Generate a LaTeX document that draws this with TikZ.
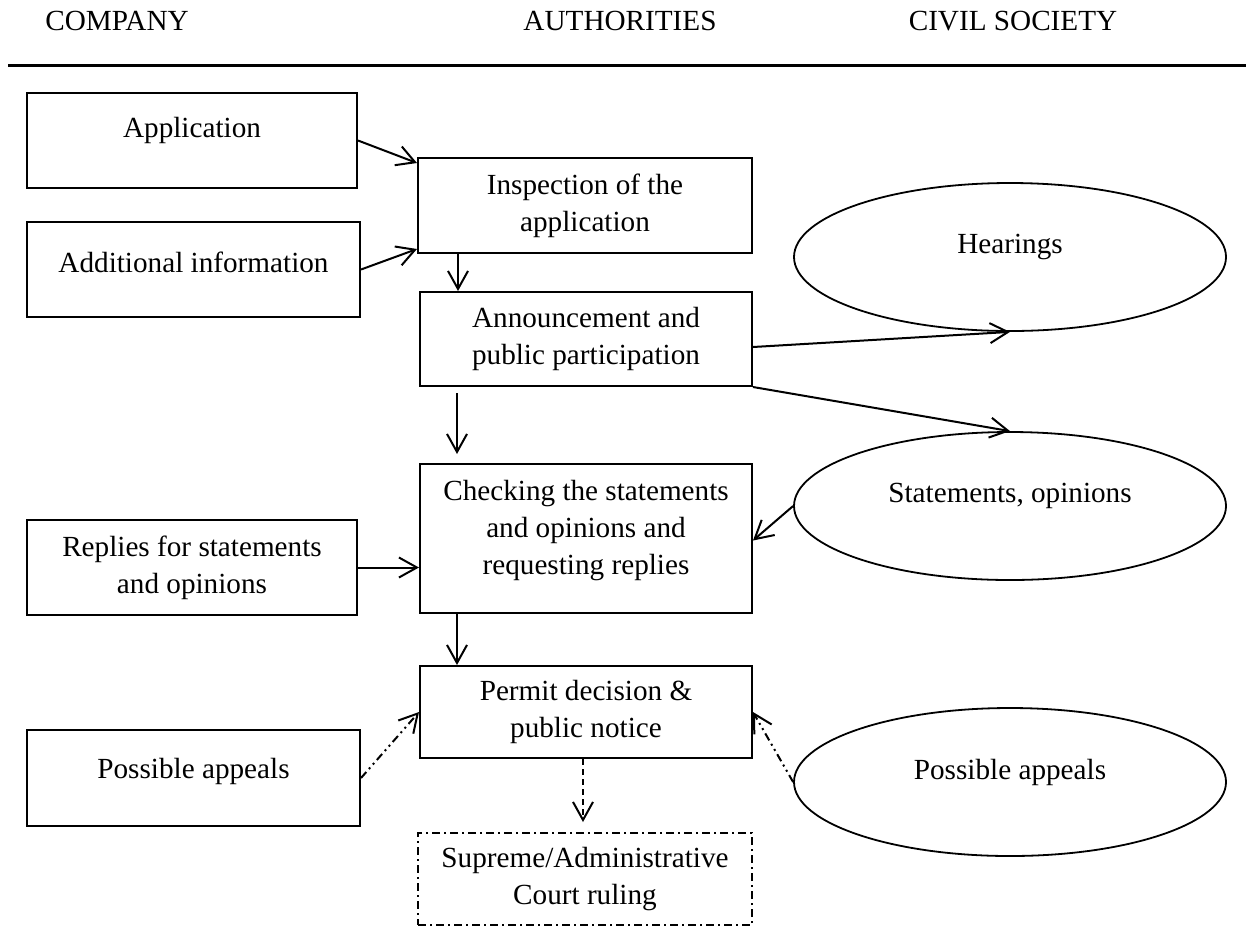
\documentclass[tikz,border=0pt]{standalone}
\usepackage{fontspec}
\setmainfont{Liberation Serif}
\usetikzlibrary{arrows.meta,positioning,calc,shapes.geometric}

\begin{document}
\begin{tikzpicture}[
  x=0.5pt, y=-0.5pt,
  font=\fontsize{14.6}{18.5}\selectfont,
  box/.style={draw, line width=1pt, align=center, inner sep=0pt},
  oval/.style={draw, ellipse, line width=0.9pt, minimum width=216pt, minimum height=74pt, inner sep=0pt, text depth=13pt},
  arr/.style={-{Straight Barb[length=9pt,width=10pt]}, line width=1pt},
  dotarr/.style={arr, dash pattern=on 4pt off 2pt on 1pt off 2pt on 1pt off 2pt},
  dasharr/.style={arr, dash pattern=on 3pt off 2pt},
  head/.style={anchor=base}
]
  \useasboundingbox (0,0) rectangle (1246,928);

  % column headings
  \node[head] (hco) at (117,30) {COMPANY};
  \node[head] (hau) at (620,30) {AUTHORITIES};
  \node[head] (hcs) at (1013,30) {CIVIL SOCIETY};
  \draw[line width=1.5pt] (8,65) -- (1246,65);

  % company side
  \node[box, minimum width=165pt, minimum height=47.5pt, text depth=13pt] (app) at (192,140.5) {Application};
  \node[box, minimum width=166.5pt, minimum height=47.5pt, text depth=7pt] (info) at (193.5,269.5) {Additional information};
  \node[box, minimum width=165pt, minimum height=47.5pt] (repl) at (192,567.5) {Replies for statements\\and opinions};
  \node[box, minimum width=166.5pt, minimum height=48pt, text depth=10pt] (appl) at (193.5,778) {Possible appeals};

  % authorities
  \node[box, minimum width=167pt, minimum height=47.5pt] (insp) at (585,205.5) {Inspection of the\\application};
  \node[box, minimum width=166pt, minimum height=47pt] (ann) at (586,339) {Announcement and\\public participation};
  \node[box, minimum width=166pt, minimum height=74.5pt, text depth=11pt] (check) at (586,538.5) {Checking the statements\\and opinions and\\requesting replies};
  \node[box, minimum width=166pt, minimum height=46pt] (perm) at (586,712) {Permit decision \&\\public notice};
  \node[box, dash pattern=on 4pt off 2pt on 1pt off 2pt, minimum width=167pt, minimum height=46pt] (court) at (585,879) {Supreme/Administrative\\Court ruling};

  % civil society
  \node[oval] (hear) at (1010,257) {Hearings};
  \node[oval] (stat) at (1010,506) {Statements, opinions};
  \node[oval] (appr) at (1010,782) {Possible appeals};

  \draw[arr] (app.east) -- ($(insp.north west)+(0,6)$);
  \draw[arr] (info.east) -- ($(insp.south west)+(0,-5)$);
  \draw[arr] ($(insp.south west)+(41,0)$) -- ($(ann.north west)+(39,0)$);
  \draw[arr] ($(ann.east)+(0,8)$) -- (hear.south);
  \draw[arr] (ann.south east) -- (stat.north);
  \draw[arr] ($(ann.south west)+(38,6)$) -- ($(check.north west)+(38,-9)$);
  \draw[arr] (repl.east) -- (repl.east -| check.west);
  \draw[arr] (stat.west) -- ($(check.east)+(0,2)$);
  \draw[arr] ($(check.south west)+(38,0)$) -- ($(perm.north west)+(38,0)$);
  \draw[dotarr] (appl.east) -- (perm.west);
  \draw[dotarr] (appr.west) -- (perm.east);
  \draw[dasharr] ($(perm.south west)+(164,0)$) -- ($(court.north west)+(166,-10)$);
\end{tikzpicture}
\end{document}
